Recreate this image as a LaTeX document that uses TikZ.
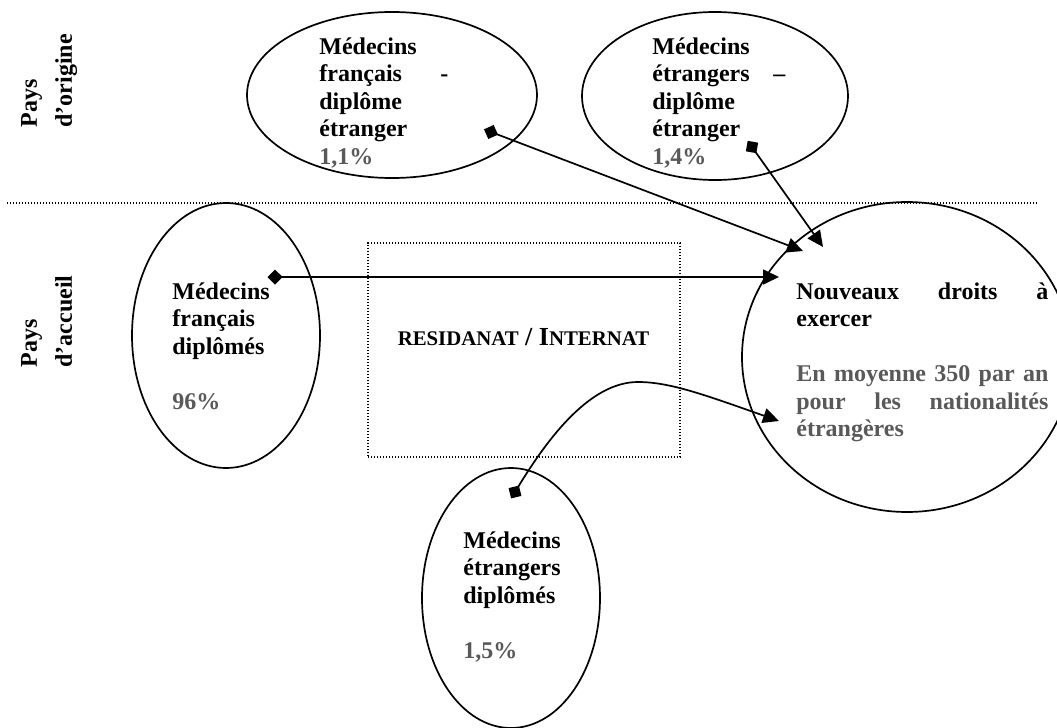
\documentclass[tikz,border=0pt]{standalone}
\usepackage{fontspec}
\setmainfont{Liberation Serif}
\usetikzlibrary{shapes.geometric,arrows.meta}
\definecolor{pct}{RGB}{89,89,89}
\setlength{\parindent}{0pt}
\begin{document}
\begin{tikzpicture}[x=0.5pt,y=-0.5pt,
  ell/.style={draw,ellipse,line width=0.85pt,inner sep=0pt},
  txt/.style={anchor=north west,inner sep=0pt,align=left,font=\fontsize{12}{13.75}\selectfont\bfseries},
  lbl/.style={anchor=north west,inner sep=0pt,align=left,rotate=90,font=\fontsize{12}{17.5}\selectfont\bfseries},
  dotline/.style={line width=0.6pt,dash pattern=on 0.6pt off 0.9pt},
  flow/.style={line width=0.85pt,{Diamond[length=7.5pt,width=7.5pt]}-{Triangle[length=8pt,width=7.5pt]},shorten <=-3.75pt}]
\useasboundingbox (0,0) rectangle (1057,728);
\clip (0,0) rectangle (1057,728);

% separators
\draw[dotline] (7,203) -- (1038,203);
\node[draw,dotline,inner sep=0pt,minimum width=156pt,minimum height=107pt] (res) at (524,350) {};
\node[anchor=base,inner sep=0pt,font=\fontsize{13}{15}\selectfont\bfseries] (rest) at (523.5,345)
  {{\fontsize{10.4}{12}\selectfont RESIDANAT} / I{\fontsize{10.4}{12}\selectfont NTERNAT}};

% side labels
\node[lbl] (orig) at (12,128) {\strut Pays\\ d’origine};
\node[lbl] (acc) at (12,368) {\strut Pays\\ d’accueil};

% ellipses
\node[ell,minimum width=145pt,minimum height=83pt] (e1) at (392,95) {};
\node[ell,minimum width=133pt,minimum height=84pt] (e2) at (715,96) {};
\node[ell,minimum width=94pt,minimum height=132.5pt] (e3) at (226,335.5) {};
\node[ell,minimum width=165pt,minimum height=155pt] (e4) at (907,357) {};
\node[ell,minimum width=89pt,minimum height=130pt] (e5) at (511,598) {};

% texts
\node[txt,text width=64.5pt] (t1) at (319,34.7)
  {\strut Médecins\\ français\hfill -\\ diplôme\\ étranger\\ \textcolor{pct}{1,1\%}};
\node[txt,text width=66.5pt] (t2) at (652,34.7)
  {\strut Médecins\\ étrangers\hfill –\\ diplôme\\ étranger\\ \textcolor{pct}{1,4\%}};
\node[txt,text width=60pt] (t3) at (172,279.7)
  {\strut Médecins\\ français\\ diplômés\\[13.75pt] \textcolor{pct}{96\%}};
\node[txt,text width=126pt] (t4) at (796,279.7)
  {\strut Nouveaux\hfill droits\hfill à\\ exercer\\[13.75pt]
   \color{pct}En\hfill moyenne\hfill 350\hfill par\hfill an\\ pour\hfill les\hfill nationalités\\ étrangères};
\node[txt,text width=60pt] (t5) at (463,528.7)
  {\strut Médecins\\ étrangers\\ diplômés\\[13.75pt] \textcolor{pct}{1,5\%}};

% connectors
\coordinate (a1s) at (491,132); \coordinate (a1e) at (803,251);
\coordinate (a2s) at (752,147); \coordinate (a2e) at (823,247);
\coordinate (a3s) at (275,277); \coordinate (a3e) at (779,277);
\coordinate (a4s) at (515,492); \coordinate (a4p) at (638,382); \coordinate (a4e) at (779,421);
\draw[flow] (a1s) -- (a1e);
\draw[flow] (a2s) -- (a2e);
\draw[flow] (a3s) -- (a3e);
\draw[flow] (a4s) .. controls (548,438) and (590,382) .. (a4p) .. controls (670,382) and (705,395) .. (a4e);
\end{tikzpicture}
\end{document}
